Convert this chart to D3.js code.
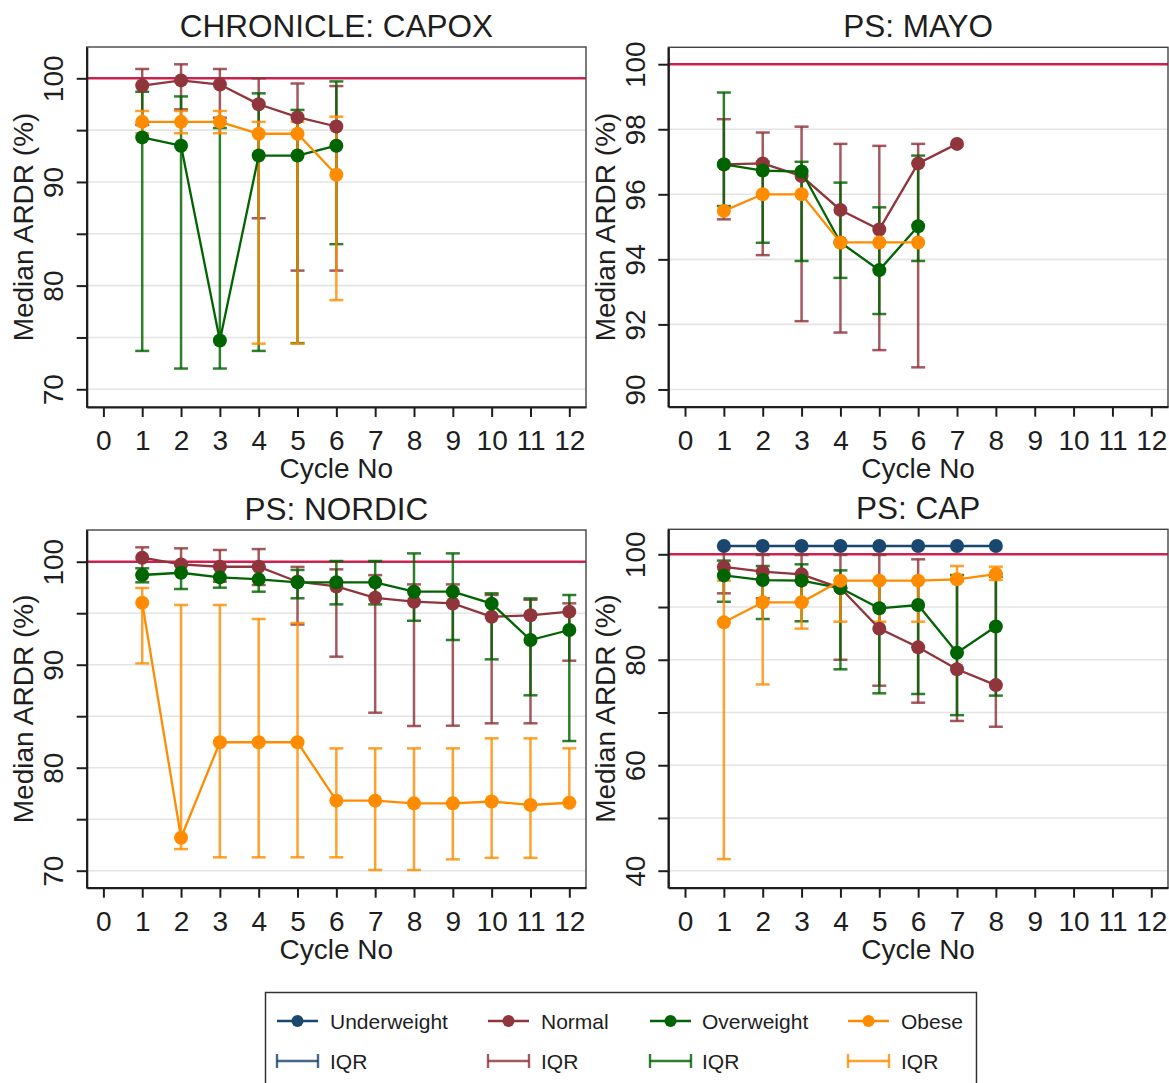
<!DOCTYPE html>
<html>
<head>
<meta charset="utf-8">
<script src="https://cdn.jsdelivr.net/npm/d3@7"></script>
<style>
  body { margin: 0; background: #fff; }
  svg { display: block; font-family: "Liberation Sans", Arial, sans-serif; }
</style>
</head>
<body>
<svg id="chart" width="1169" height="1083"></svg>
<script>
// ---- data -------------------------------------------------------------
const cycleTicks = d3.range(0, 13);
const groups = ["Underweight", "Normal", "Overweight", "Obese"];
const groupColors = ["#1a476f", "#90353b", "#006400", "#ff8c00"];

// rows: [cycle, median ARDR, lower quartile, upper quartile]
const capoxNormal = [
  [1, 99.3, 95.5, 100.9], [2, 99.8, 97.0, 101.35], [3, 99.4, 96.2, 100.9],
  [4, 97.5, 86.5, 100.0], [5, 96.25, 81.45, 99.5], [6, 95.35, 81.45, 99.25]
];
const capoxOverweight = [
  [1, 94.3, 73.7, 98.7], [2, 93.5, 72.0, 98.25], [3, 74.7, 72.0, 95.2],
  [4, 92.55, 73.7, 98.55], [5, 92.55, 74.45, 96.95], [6, 93.5, 84.0, 99.7]
];
const capoxObese = [
  [1, 95.8, 94.7, 96.85], [2, 95.8, 94.7, 96.85], [3, 95.8, 94.7, 96.85],
  [4, 94.65, 74.4, 95.8], [5, 94.65, 74.4, 95.8], [6, 90.7, 78.6, 96.3]
];

const mayoNormal = [
  [1, 96.92, 95.23, 98.31], [2, 96.95, 94.13, 97.9], [3, 96.56, 92.1, 98.08],
  [4, 95.52, 91.75, 97.55], [5, 94.92, 91.21, 97.49], [6, 96.95, 90.68, 97.55],
  [7, 97.55, null, null]
];
const mayoOverweight = [
  [1, 96.92, 95.64, 99.13], [2, 96.73, 94.51, 97.0], [3, 96.7, 93.95, 97.0],
  [4, 94.52, 93.43, 96.36], [5, 93.67, 92.32, 95.6], [6, 95.02, 93.95, 97.19]
];
const mayoObese = [
  [1, 95.49, null, null], [2, 96.0, null, null], [3, 96.0, null, null],
  [4, 94.52, null, null], [5, 94.52, null, null], [6, 94.52, null, null]
];

const nordicNormal = [
  [1, 100.39, 98.75, 101.4], [2, 99.74, 98.9, 101.3], [3, 99.51, 98.06, 101.14],
  [4, 99.51, 97.74, 101.23], [5, 98.06, 93.9, 99.5], [6, 97.6, 90.78, 99.26],
  [7, 96.5, 85.34, 98.7], [8, 96.12, 84.05, 97.8], [9, 95.95, 84.08, 97.8],
  [10, 94.66, 84.31, 96.77], [11, 94.8, 84.31, 96.3], [12, 95.15, 90.39, 95.96]
];
const nordicOverweight = [
  [1, 98.71, 98.0, 99.36], [2, 98.93, 97.35, 99.7], [3, 98.48, 97.48, 99.5],
  [4, 98.29, 97.09, 99.5], [5, 98.0, 96.45, 99.2], [6, 98.0, 95.86, 100.07],
  [7, 98.0, 95.86, 100.07], [8, 97.09, 94.27, 100.81], [9, 97.09, 92.4, 100.81],
  [10, 95.93, 90.52, 96.93], [11, 92.4, 87.03, 96.44], [12, 93.37, 82.59, 96.77]
];
const nordicObese = [
  [1, 96.02, 90.13, 97.45], [2, 73.2, 72.1, 95.8], [3, 82.47, 71.3, 95.8],
  [4, 82.47, 71.3, 94.44], [5, 82.47, 71.3, 94.05], [6, 76.8, 71.3, 81.88],
  [7, 76.8, 70.07, 81.88], [8, 76.54, 70.07, 81.88], [9, 76.54, 71.1, 81.88],
  [10, 76.72, 71.25, 82.85], [11, 76.38, 71.25, 82.85], [12, 76.6, 76.6, 81.88]
];

const capUnderweight = [
  [1, 101.57, null, null], [2, 101.57, null, null], [3, 101.57, null, null],
  [4, 101.57, null, null], [5, 101.57, null, null], [6, 101.57, null, null],
  [7, 101.57, null, null], [8, 101.57, null, null]
];
const capNormal = [
  [1, 97.6, 92.6, 101.5], [2, 96.7, 91.66, 99.87], [3, 96.2, 91.0, 99.87],
  [4, 93.6, 80.0, 99.87], [5, 85.9, 75.08, 99.87], [6, 82.36, 71.86, 99.05],
  [7, 78.19, 68.4, 95.3], [8, 75.2, 67.3, 96.3]
];
const capOverweight = [
  [1, 96.0, 91.0, 98.8], [2, 95.12, 87.73, 97.78], [3, 95.0, 87.3, 98.1],
  [4, 93.6, 78.19, 96.95], [5, 89.76, 73.64, 95.0], [6, 90.38, 73.51, 95.0],
  [7, 81.34, 69.5, 96.07], [8, 86.3, 73.2, 95.75]
];
const capObese = [
  [1, 87.1, 42.2, 95.0], [2, 90.9, 75.33, 95.1], [3, 90.9, 85.9, 95.1],
  [4, 95.0, 87.22, 95.0], [5, 95.0, 87.22, 95.0], [6, 95.0, 87.22, 95.0],
  [7, 95.26, 94.9, 97.78], [8, 96.26, 95.12, 97.65]
];

const panelTitles = ["CHRONICLE: CAPOX", "PS: MAYO", "PS: NORDIC", "PS: CAP"];
const capoxYTicks = [70, 75, 80, 85, 90, 95, 100];
const capoxYLabels = [70, 80, 90, 100];
const mayoYTicks = [90, 92, 94, 96, 98, 100];
const mayoYLabels = [90, 92, 94, 96, 98, 100];
const nordicYTicks = [70, 75, 80, 85, 90, 95, 100];
const nordicYLabels = [70, 80, 90, 100];
const capYTicks = [40, 50, 60, 70, 80, 90, 100];
const capYLabels = [40, 60, 80, 100];
const referenceValue = 100;

// ---- layout -----------------------------------------------------------
const panels = [
  { title: panelTitles[0], series: [null, capoxNormal, capoxOverweight, capoxObese],
    yDomain: [68.29, 103.02], yTicks: capoxYTicks, yLabels: capoxYLabels, box: [86.7, 47, 586, 407] },
  { title: panelTitles[1], series: [null, mayoNormal, mayoOverweight, mayoObese],
    yDomain: [89.47, 100.52], yTicks: mayoYTicks, yLabels: mayoYLabels, box: [668.3, 47.3, 1168, 406.7] },
  { title: panelTitles[2], series: [null, nordicNormal, nordicOverweight, nordicObese],
    yDomain: [68.35, 103.08], yTicks: nordicYTicks, yLabels: nordicYLabels, box: [86.7, 530, 586, 887.7] },
  { title: panelTitles[3], series: [capUnderweight, capNormal, capOverweight, capObese],
    yDomain: [36.78, 104.74], yTicks: capYTicks, yLabels: capYLabels, box: [668.3, 529.3, 1168, 887.7] }
];

const svg = d3.select("#chart");
svg.append("rect").attr("width", 1169).attr("height", 1083).attr("fill", "#fff");

const ink = "#1e1e1e";
const capHalf = 7;

panels.forEach(p => {
  const [L, T, R, B] = p.box;
  const x = d3.scaleLinear().domain([-0.43, 12.43]).range([L, R]);
  const y = d3.scaleLinear().domain(p.yDomain).range([B, T]);
  const g = svg.append("g");

  // horizontal grid
  g.append("g").selectAll("line").data(p.yTicks).join("line")
    .attr("x1", L).attr("x2", R)
    .attr("y1", d => y(d)).attr("y2", d => y(d))
    .attr("stroke", "#e4e4e4").attr("stroke-width", 1.6);

  // reference line at 100 %
  g.append("line")
    .attr("x1", L).attr("x2", R)
    .attr("y1", y(referenceValue)).attr("y2", y(referenceValue))
    .attr("stroke", "#cc2250").attr("stroke-width", 2.4);

  // plot frame
  g.append("rect")
    .attr("x", L).attr("y", T).attr("width", R - L).attr("height", B - T)
    .attr("fill", "none").attr("stroke", "#444").attr("stroke-width", 1.4);

  // y axis
  const yAxis = d3.axisLeft(y).tickValues(p.yTicks).tickSize(10).tickSizeOuter(0)
    .tickFormat(d => p.yLabels.includes(d) ? d : "");
  const ya = g.append("g").attr("transform", `translate(${L},0)`).call(yAxis);
  ya.select(".domain").attr("stroke", ink).attr("stroke-width", 2.2);
  ya.selectAll(".tick line").attr("stroke", ink).attr("stroke-width", 2);
  ya.selectAll(".tick text")
    .attr("x", 0).attr("dy", 0).attr("text-anchor", "middle")
    .attr("transform", "translate(-23.7,0) rotate(-90)")
    .attr("font-size", 28).attr("fill", ink)
    .style("font-family", '"Liberation Sans", Arial, sans-serif');

  // x axis
  const xAxis = d3.axisBottom(x).tickValues(cycleTicks).tickSize(10).tickSizeOuter(0);
  const xa = g.append("g").attr("transform", `translate(0,${B})`).call(xAxis);
  xa.select(".domain").attr("stroke", ink).attr("stroke-width", 2.2);
  xa.selectAll(".tick line").attr("stroke", ink).attr("stroke-width", 2);
  xa.selectAll(".tick text")
    .attr("y", 43).attr("dy", 0)
    .attr("font-size", 28).attr("fill", ink)
    .style("font-family", '"Liberation Sans", Arial, sans-serif');

  // axis titles and panel title
  g.append("text").attr("x", (L + R) / 2).attr("y", B + 71)
    .attr("text-anchor", "middle").attr("font-size", 28).attr("fill", ink).text("Cycle No");
  g.append("text")
    .attr("transform", `translate(${L - 53.7},${(T + B) / 2}) rotate(-90)`)
    .attr("text-anchor", "middle").attr("font-size", 28).attr("fill", ink).text("Median ARDR (%)");
  g.append("text").attr("x", (L + R) / 2).attr("y", T - 10.3)
    .attr("text-anchor", "middle").attr("font-size", 31.5).attr("fill", ink).text(p.title);

  // IQR bars (all groups first)
  p.series.forEach((rows, i) => {
    if (!rows) return;
    const col = groupColors[i];
    const withIqr = rows.filter(r => r[2] != null);
    const bars = g.append("g").attr("stroke", col).attr("stroke-opacity", 0.82)
      .attr("stroke-width", 2.5).attr("fill", "none");
    bars.selectAll("line.v").data(withIqr).join("line").attr("class", "v")
      .attr("x1", r => x(r[0])).attr("x2", r => x(r[0]))
      .attr("y1", r => y(r[2])).attr("y2", r => y(r[3]));
    bars.selectAll("line.lo").data(withIqr).join("line").attr("class", "lo")
      .attr("x1", r => x(r[0]) - capHalf).attr("x2", r => x(r[0]) + capHalf)
      .attr("y1", r => y(r[2])).attr("y2", r => y(r[2]));
    bars.selectAll("line.hi").data(withIqr).join("line").attr("class", "hi")
      .attr("x1", r => x(r[0]) - capHalf).attr("x2", r => x(r[0]) + capHalf)
      .attr("y1", r => y(r[3])).attr("y2", r => y(r[3]));
  });

  // medians: connected lines with markers
  p.series.forEach((rows, i) => {
    if (!rows) return;
    const col = groupColors[i];
    const line = d3.line().x(r => x(r[0])).y(r => y(r[1]));
    g.append("path").datum(rows).attr("d", line)
      .attr("fill", "none").attr("stroke", col).attr("stroke-width", 2.3);
    g.append("g").selectAll("circle").data(rows).join("circle")
      .attr("cx", r => x(r[0])).attr("cy", r => y(r[1])).attr("r", 7)
      .attr("fill", col);
  });
});

// ---- legend -----------------------------------------------------------
const legend = svg.append("g");
legend.append("rect").attr("x", 265.5).attr("y", 992.5).attr("width", 711).attr("height", 100)
  .attr("fill", "#fff").attr("stroke", "#333").attr("stroke-width", 1.5);
const legendSymX = [277, 488, 650, 848];
const legendTextX = [330, 541, 702, 901];
const rowY = [1021, 1061];
groups.forEach((name, i) => {
  const x0 = legendSymX[i], col = groupColors[i];
  legend.append("line").attr("x1", x0).attr("x2", x0 + 41).attr("y1", rowY[0]).attr("y2", rowY[0])
    .attr("stroke", col).attr("stroke-width", 2.3);
  legend.append("circle").attr("cx", x0 + 20.5).attr("cy", rowY[0]).attr("r", 6).attr("fill", col);
  legend.append("text").attr("x", legendTextX[i]).attr("y", rowY[0] + 7.5)
    .attr("font-size", 21).attr("fill", ink).text(name);

  const iqr = legend.append("g").attr("stroke", col).attr("stroke-opacity", 0.82).attr("stroke-width", 2.4);
  iqr.append("line").attr("x1", x0).attr("x2", x0 + 41).attr("y1", rowY[1]).attr("y2", rowY[1]);
  iqr.append("line").attr("x1", x0).attr("x2", x0).attr("y1", rowY[1] - 7).attr("y2", rowY[1] + 7);
  iqr.append("line").attr("x1", x0 + 41).attr("x2", x0 + 41).attr("y1", rowY[1] - 7).attr("y2", rowY[1] + 7);
  legend.append("text").attr("x", legendTextX[i]).attr("y", rowY[1] + 7.5)
    .attr("font-size", 21).attr("fill", ink).text("IQR");
});
</script>
</body>
</html>
